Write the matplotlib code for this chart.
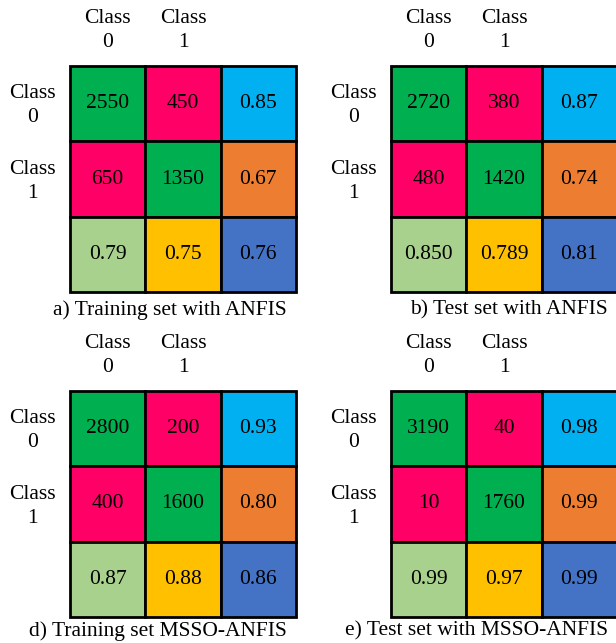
import matplotlib.pyplot as plt
from matplotlib.patches import Rectangle

plt.rcParams['font.family'] = ['Liberation Serif', 'DejaVu Serif']

# confusion counts (rows = actual class, cols = predicted class)
counts_a = [[2550, 450], [650, 1350]]
counts_b = [[2720, 380], [480, 1420]]
counts_d = [[2800, 200], [400, 1600]]
counts_e = [[3190, 40], [10, 1760]]

# per-row metric (right column) and per-column metric + overall (bottom row)
row_metric_a = ['0.85', '0.67']
row_metric_b = ['0.87', '0.74']
row_metric_d = ['0.93', '0.80']
row_metric_e = ['0.98', '0.99']

bottom_a = ['0.79', '0.75', '0.76']
bottom_b = ['0.850', '0.789', '0.81']
bottom_d = ['0.87', '0.88', '0.86']
bottom_e = ['0.99', '0.97', '0.99']

captions = ['a) Training set with ANFIS', 'b) Test set with ANFIS',
            'd) Training set MSSO-ANFIS', 'e) Test set with MSSO-ANFIS']
class_labels = ['Class\n0', 'Class\n1']

cell_colors = [['#00B050', '#FF0066', '#00B0F0'],
               ['#FF0066', '#00B050', '#ED7D31'],
               ['#A9D18E', '#FFC000', '#4472C4']]

W, H = 616, 643
FS = 15.5
fig = plt.figure(figsize=(W / 100, H / 100), dpi=100)


def panel(x0, y0, counts, row_metric, bottom, caption, cap_x, cap_y):
    size = 226
    ax = fig.add_axes([x0 / W, 1 - (y0 + size) / H, size / W, size / H])
    ax.set_xlim(0, 3)
    ax.set_ylim(3, 0)
    ax.axis('off')
    vals = [[str(counts[0][0]), str(counts[0][1]), row_metric[0]],
            [str(counts[1][0]), str(counts[1][1]), row_metric[1]],
            bottom]
    for i in range(3):
        for j in range(3):
            ax.add_patch(Rectangle((j, i), 1, 1, facecolor=cell_colors[i][j],
                                   edgecolor='black', linewidth=2, clip_on=False))
            ax.text(j + 0.5, i + 0.5, vals[i][j], ha='center', va='center',
                    fontsize=FS)
    for k, lab in enumerate(class_labels):
        ax.text(k + 0.5, -0.47, lab, ha='center', va='center', fontsize=FS,
                linespacing=1.35)
        ax.text(-0.5, k + 0.53, lab, ha='center', va='center', fontsize=FS,
                linespacing=1.35)
    ax.text(cap_x, cap_y, caption, ha='right', va='baseline', fontsize=FS)


panel(70, 66, counts_a, row_metric_a, bottom_a, captions[0], 2.88, 3.3)
panel(391, 66, counts_b, row_metric_b, bottom_b, captions[1], 2.88, 3.3)
panel(70, 391, counts_d, row_metric_d, bottom_d, captions[2], 2.88, 3.25)
panel(391, 391, counts_e, row_metric_e, bottom_e, captions[3], 2.88, 3.25)

fig.savefig('out.png', dpi=100, facecolor='white')
